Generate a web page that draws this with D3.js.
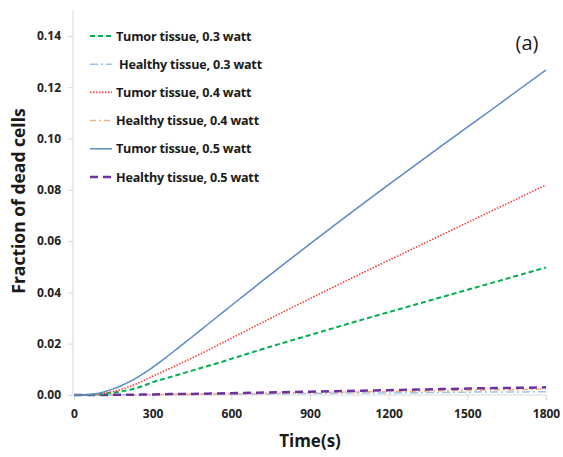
<!DOCTYPE html>
<html><head><meta charset="utf-8">
<script src="https://cdn.jsdelivr.net/npm/d3@7"></script>
<style>body{margin:0;background:#fff}svg{display:block}</style>
</head><body><div id="chart"></div>
<script>
// Time (s)
const timeT = [0,30,60,90,120,150,180,210,240,270,300,350,400,450,500,550,600,700,800,900,1000,1100,1200,1300,1400,1500,1600,1700,1800];
const tumor05 = [0,0,0.0001,0.0006,0.0014,0.0024,0.0036,0.0051,0.0068,0.0087,0.0108,0.0146,0.0186,0.0226,0.0267,0.0308,0.0349,0.0430,0.0510,0.0589,0.0667,0.0744,0.0820,0.0895,0.0970,0.1044,0.1118,0.1193,0.1267];
const tumor04 = [0,0,0.0001,0.0003,0.0008,0.0014,0.0022,0.0032,0.0044,0.0058,0.0073,0.0096,0.0120,0.0144,0.0169,0.0195,0.0221,0.0273,0.0325,0.0376,0.0426,0.0476,0.0525,0.0574,0.0623,0.0672,0.0721,0.0770,0.0819];
const tumor03 = [0,0,0.0001,0.0002,0.0005,0.0009,0.0014,0.0020,0.0028,0.0038,0.0050,0.0065,0.0080,0.0095,0.0110,0.0125,0.0141,0.0173,0.0204,0.0234,0.0264,0.0294,0.0323,0.0352,0.0381,0.0410,0.0439,0.0468,0.0497];
const healthy03 = [0,0,0,0,0,0,0.0001,0.0001,0.0001,0.0001,0.0001,0.0002,0.0002,0.0002,0.0003,0.0003,0.0003,0.0004,0.0005,0.0006,0.0007,0.0008,0.0008,0.0009,0.0010,0.0011,0.0012,0.0012,0.0013];
const healthy04 = [0,0,0,0,0,0,0.0001,0.0001,0.0001,0.0001,0.0002,0.0002,0.0003,0.0003,0.0004,0.0004,0.0005,0.0006,0.0008,0.0009,0.0011,0.0012,0.0014,0.0015,0.0017,0.0018,0.0020,0.0021,0.0023];
const healthy05 = [0,0,0,0,0,0.0001,0.0001,0.0001,0.0001,0.0002,0.0002,0.0003,0.0004,0.0004,0.0005,0.0006,0.0007,0.0009,0.0011,0.0013,0.0015,0.0017,0.0019,0.0021,0.0023,0.0025,0.0027,0.0028,0.0030];
const xTicks = [0,300,600,900,1200,1500,1800];
const yTicks = [0,0.02,0.04,0.06,0.08,0.10,0.12,0.14];
const seriesNames = ["Tumor tissue, 0.3 watt","Healthy tissue, 0.3 watt","Tumor tissue, 0.4 watt","Healthy tissue, 0.4 watt","Tumor tissue, 0.5 watt","Healthy tissue, 0.5 watt"];

const series = [
  {name: seriesNames[0], v: tumor03,  color:"#00b050", dash:"5,3",     w:2},
  {name: seriesNames[1], v: healthy03,color:"#9dc3e6", dash:"8,3,2,3", w:1.5},
  {name: seriesNames[2], v: tumor04,  color:"#ff3b3b", dash:"1.5,1.5", w:1.6},
  {name: seriesNames[3], v: healthy04,color:"#f4b183", dash:"6,3,2,3", w:1.5},
  {name: seriesNames[4], v: tumor05,  color:"#5a8ac6", dash:null,      w:1.5},
  {name: seriesNames[5], v: healthy05,color:"#7030a0", dash:"8,5",     w:2.5}
];

const W=563,H=457;
const svg=d3.select("#chart").append("svg").attr("width",W).attr("height",H);
const x=d3.scaleLinear().domain([0,1800]).range([74,546]);
const y=d3.scaleLinear().domain([0,0.15]).range([395,10.25]);
const font="'Open Sans', 'Liberation Sans', sans-serif";

// axes
const yAx=svg.append("g").attr("transform","translate(73,0)")
  .call(d3.axisLeft(y).tickValues(yTicks).tickFormat(d3.format(".2f")).tickSize(5).tickPadding(7));
yAx.select(".domain").attr("stroke","#d9d9d9").attr("d","M0,10.25V395");
const xAx=svg.append("g").attr("transform","translate(0,395)")
  .call(d3.axisBottom(x).tickValues(xTicks).tickFormat(d3.format("d")).tickSize(5).tickPadding(9));
xAx.select(".domain").attr("stroke","#d9d9d9").attr("d","M74,0H546");
svg.selectAll(".tick line").attr("stroke","#d9d9d9");
svg.selectAll(".tick text").attr("font-family",font).attr("font-weight","bold").attr("font-size",12).attr("fill","#222");

// lines
const line=d3.line().x((d,i)=>x(timeT[i])).y(d=>y(d)).curve(d3.curveMonotoneX);
const order=[1,3,5,0,2,4];
order.forEach(k=>{
  const s=series[k];
  svg.append("path").datum(s.v).attr("d",line).attr("fill","none")
    .attr("stroke",s.color).attr("stroke-width",s.w)
    .attr("stroke-dasharray",s.dash);
});

// legend
const lg=svg.append("g");
series.forEach((s,i)=>{
  const yy=36+i*28.2;
  lg.append("line").attr("x1",90).attr("x2",112).attr("y1",yy).attr("y2",yy)
    .attr("stroke",s.color).attr("stroke-width",s.w).attr("stroke-dasharray",s.dash);
  lg.append("text").attr("x",i===1?119:116).attr("y",yy+4.5)
    .attr("font-family",font).attr("font-weight","bold").attr("font-size",12.6).attr("fill","#1a1a1a")
    .attr("letter-spacing","-0.2").text(s.name);
});

// titles
svg.append("text").attr("x",310).attr("y",447).attr("text-anchor","middle")
  .attr("font-family",font).attr("font-weight","bold").attr("font-size",17).attr("fill","#1a1a1a").text("Time(s)");
svg.append("text").attr("transform","translate(25,201) rotate(-90)").attr("text-anchor","middle")
  .attr("font-family",font).attr("font-weight","bold").attr("font-size",17.5).attr("fill","#1a1a1a").text("Fraction of dead  cells");
svg.append("text").attr("x",527).attr("y",50).attr("text-anchor","middle")
  .attr("font-family",font).attr("font-size",20).attr("fill","#1a1a1a").text("(a)");
</script></body></html>
